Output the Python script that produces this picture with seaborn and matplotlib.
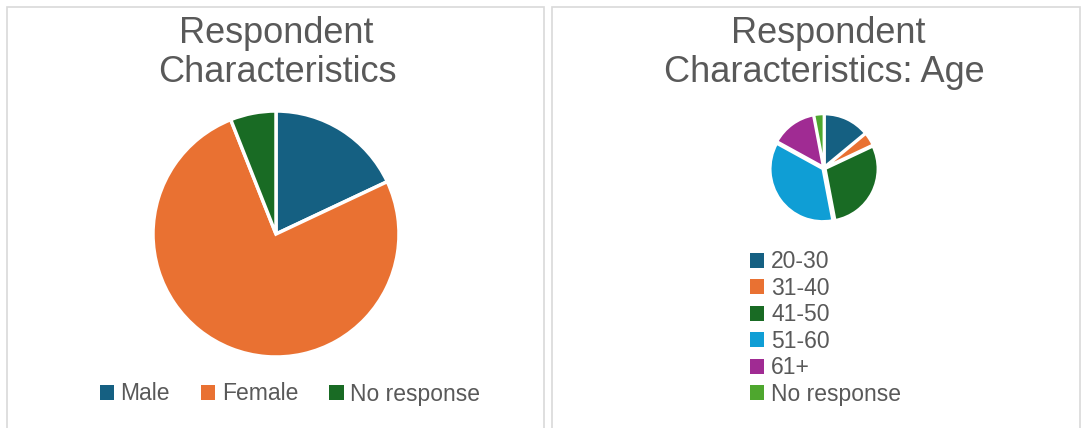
import matplotlib
matplotlib.use("Agg")
import matplotlib.pyplot as plt
from matplotlib.patches import Rectangle, Patch
import seaborn as sns

# Gender breakdown (%)
gender_labels = ["Male", "Female", "No response"]
gender_values = [18, 76, 6]

# Age breakdown (%)
age_labels = ["20-30", "31-40", "41-50", "51-60", "61+", "No response"]
age_values = [14, 4, 29, 36, 14, 3]

sns.set_theme(style="white")
plt.rcParams["font.family"] = ["Liberation Sans", "DejaVu Sans"]

palette = sns.color_palette(["#156082", "#E97132", "#196B24", "#0F9ED5", "#A02B93", "#4EA72E"])
text_color = "#595959"
border_color = "#D9D9D9"

W, H = 1086, 428
fig = plt.figure(figsize=(W / 100, H / 100), dpi=100)
fig.patch.set_facecolor("white")


def fx(px):
    return px / W


def fy(py):
    return 1 - py / H


# Panel frames
for x0, x1 in [(7, 544), (552, 1080)]:
    fig.add_artist(Rectangle((fx(x0), fy(432)), fx(x1 - x0), (432 - 7) / H,
                             transform=fig.transFigure, fill=False,
                             edgecolor=border_color, linewidth=1.2))

# Titles
title_size = 26
fig.text(fx(276), fy(43), "Respondent", ha="center", va="baseline",
         fontsize=title_size, color=text_color)
fig.text(fx(277), fy(82), "Characteristics", ha="center", va="baseline",
         fontsize=title_size, color=text_color)
fig.text(fx(828), fy(43), "Respondent", ha="center", va="baseline",
         fontsize=title_size, color=text_color)
fig.text(fx(824), fy(82), "Characteristics: Age", ha="center", va="baseline",
         fontsize=title_size, color=text_color)


def pie_axes(cx, cy, r):
    return fig.add_axes([fx(cx - r), fy(cy + r), (2 * r) / W, (2 * r) / H])


# Gender pie
ax1 = pie_axes(276, 234, 123)
ax1.pie(gender_values, colors=palette[:3], startangle=90, counterclock=False,
        radius=1, wedgeprops=dict(edgecolor="white", linewidth=2.5))
ax1.set_xlim(-1, 1)
ax1.set_ylim(-1, 1)
ax1.set_aspect("equal")
ax1.axis("off")

# Age pie
ax2 = pie_axes(824, 168, 54)
ax2.pie(age_values, colors=palette[:6], startangle=90, counterclock=False,
        radius=1, explode=[0.03] * 6,
        wedgeprops=dict(edgecolor="white", linewidth=1.8))
ax2.set_xlim(-1.03, 1.03)
ax2.set_ylim(-1.03, 1.03)
ax2.set_aspect("equal")
ax2.axis("off")

legend_size = 16.5

handles1 = [Patch(facecolor=c, edgecolor="none") for c in palette[:3]]
leg1 = fig.legend(handles1, gender_labels, loc="center",
                  bbox_to_anchor=(fx(290), fy(394)), ncol=3, frameon=False,
                  fontsize=legend_size, handlelength=0.62, handleheight=0.62,
                  handletextpad=0.3, columnspacing=1.35, borderpad=0,
                  borderaxespad=0)
for t in leg1.get_texts():
    t.set_color(text_color)

handles2 = [Patch(facecolor=c, edgecolor="none") for c in palette[:6]]
leg2 = fig.legend(handles2, age_labels, loc="center left",
                  bbox_to_anchor=(fx(750), fy(328)), ncol=1, frameon=False,
                  fontsize=legend_size, handlelength=0.62, handleheight=0.62,
                  handletextpad=0.3, labelspacing=0.15, borderpad=0,
                  borderaxespad=0)
for t in leg2.get_texts():
    t.set_color(text_color)

fig.savefig("out.png", dpi=100, facecolor="white")
